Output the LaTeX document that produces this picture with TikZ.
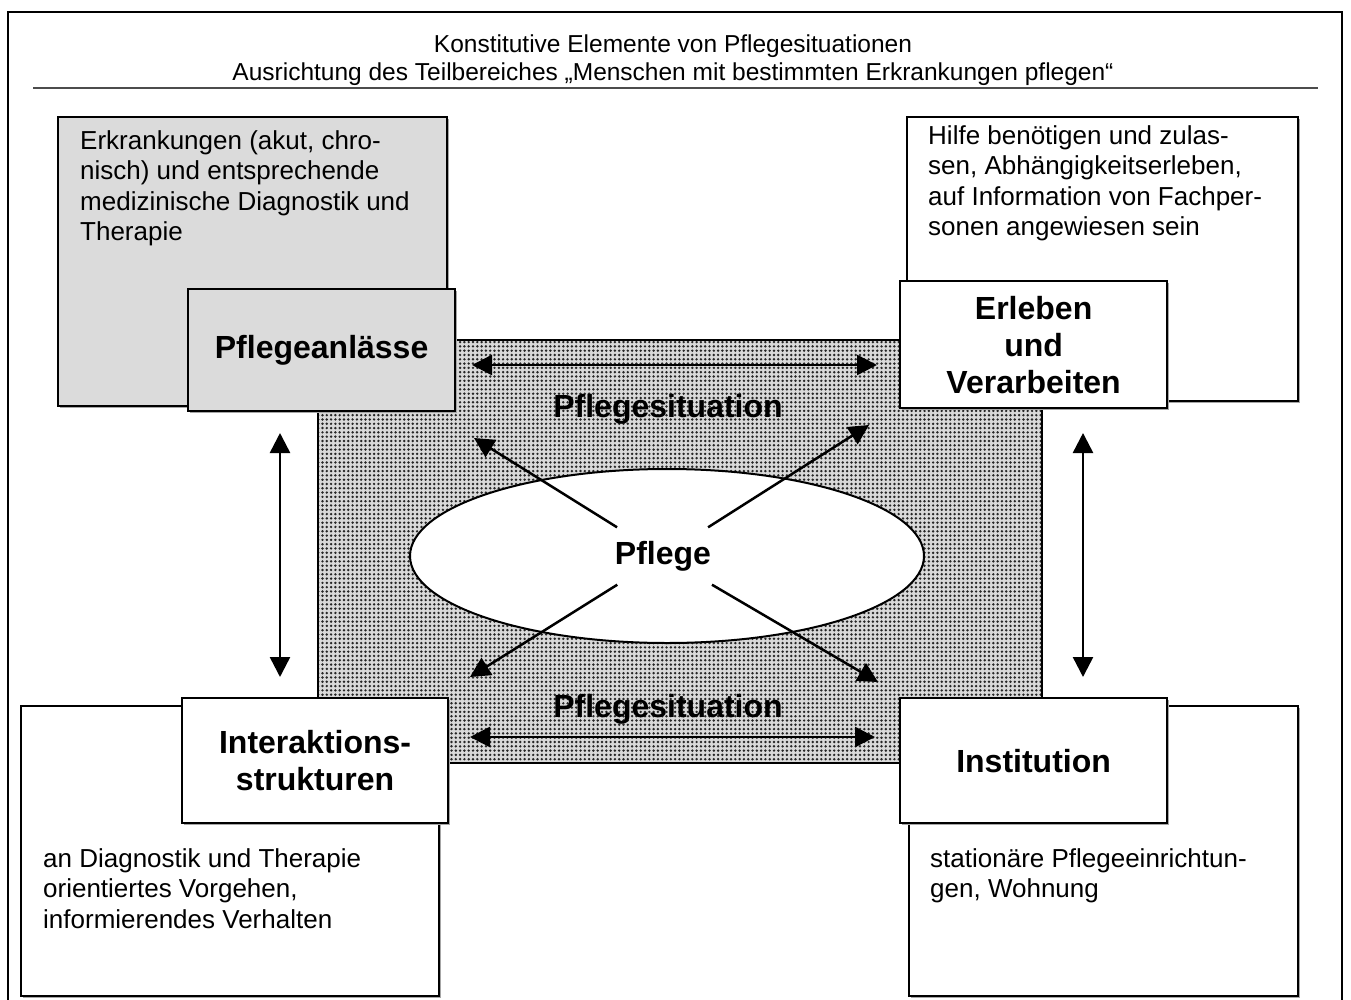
\documentclass[tikz,border=0pt]{standalone}
\usepackage{fontspec}
\setmainfont{Liberation Sans}
\usetikzlibrary{arrows.meta,patterns.meta,shapes.geometric,shadows}
\begin{document}
\begin{tikzpicture}[x=1pt,y=-1pt,
  box/.style={draw, line width=2.2pt, anchor=north west, inner sep=0pt,
    drop shadow={shadow xshift=1.5pt, shadow yshift=-1.5pt, fill=gray!70, opacity=1}},
  greybox/.style={box, fill=gray!28},
  whitebox/.style={box, fill=white},
  bodytext/.style={anchor=north west, align=left, inner sep=0pt,
    font=\fontsize{26}{30.5}\selectfont},
  label/.style={align=center, inner sep=0pt, font=\fontsize{32}{37}\selectfont\bfseries},
  arr/.style={line width=2.5pt, {Triangle[length=20pt,width=20pt]}-{Triangle[length=20pt,width=20pt]}},
  arrone/.style={line width=2.5pt, -{Triangle[length=20pt,width=20pt]}},
]
\useasboundingbox (0,0) rectangle (1351,1000);
% outer frame
\draw[line width=2pt] (8,1000) -- (8,12) -- (1342,12) -- (1342,1000);
% title
\node[align=center, inner sep=0pt, font=\fontsize{24.5}{28}\selectfont] (title) at (673,60)
  {Konstitutive Elemente von Pflegesituationen\\
   Ausrichtung des Teilbereiches „Menschen mit bestimmten Erkrankungen pflegen“};
\draw[line width=1.5pt, gray!60!black] (33,88) -- (1318,88);

% central shaded field
\fill[gray!30] (318,340) rectangle (1042,763);
\fill[pattern={Dots[distance=4.3pt, radius=1.35pt]}, pattern color=black!85] (318,340) rectangle (1042,763);
\draw[line width=2pt] (318,340) rectangle (1042,763);

% big boxes
\node[greybox, minimum width=389pt, minimum height=289pt] (tl) at (57,116) {};
\node[whitebox, minimum width=391pt, minimum height=284pt] (tr) at (906,116) {};
\node[whitebox, minimum width=418pt, minimum height=290pt] (bl) at (20,705) {};
\node[whitebox, minimum width=389pt, minimum height=290pt] (br) at (908,705) {};

\node[bodytext] (tltext) at (80,130)
  {Erkrankungen (akut, chro-\\nisch) und entsprechende\\medizinische Diagnostik und\\Therapie};
\node[bodytext] (trtext) at (928,125)
  {Hilfe benötigen und zulas-\\sen, Abhängigkeitserleben,\\auf Information von Fachper-\\sonen angewiesen sein};
\node[bodytext] (bltext) at (43,848)
  {an Diagnostik und Therapie\\orientiertes Vorgehen,\\informierendes Verhalten};
\node[bodytext] (brtext) at (930,848)
  {stationäre Pflegeeinrichtun-\\gen, Wohnung};

% small labelled boxes
\node[greybox, minimum width=267pt, minimum height=122pt] (anl) at (187,288) {};
\node[label] at (anl.center) {Pflegeanlässe};
\node[whitebox, minimum width=267pt, minimum height=127pt] (erl) at (899,280) {};
\node[label] at (erl.center) {Erleben\\und\\Verarbeiten};
\node[whitebox, minimum width=266pt, minimum height=125pt] (int) at (181,697) {};
\node[label] at (int.center) {Interaktions-\\strukturen};
\node[whitebox, minimum width=267pt, minimum height=125pt] (ins) at (899,697) {};
\node[label] at (ins.center) {Institution};

% labels in field
\node[label] (sit1) at (668,409) {Pflegesituation};
\node[label] (sit2) at (668,709) {Pflegesituation};

% ellipse
\node[ellipse, draw, line width=2pt, fill=white, minimum width=514pt, minimum height=174pt] (ell) at (667,556) {};
\node[label, minimum width=100pt, minimum height=57pt] (P) at (663,556) {Pflege};

% arrow end points
\coordinate (hl1) at (472,365);
\coordinate (hr1) at (877,365);
\coordinate (hl2) at (470,737);
\coordinate (hr2) at (875,737);
\coordinate (vlt) at (280,433);
\coordinate (vlb) at (280,677);
\coordinate (vrt) at (1083,433);
\coordinate (vrb) at (1083,677);
\coordinate (dul) at (474,438);
\coordinate (dur) at (869,425);
\coordinate (dll) at (470,677);
\coordinate (dlr) at (878,682);

\draw[arr] (hl1) -- (hr1);
\draw[arr] (hl2) -- (hr2);
\draw[arr] (vlt) -- (vlb);
\draw[arr] (vrt) -- (vrb);
\draw[arrone] (P) -- (dul);
\draw[arrone] (P) -- (dur);
\draw[arrone] (P) -- (dll);
\draw[arrone] (P) -- (dlr);
\end{tikzpicture}
\end{document}
